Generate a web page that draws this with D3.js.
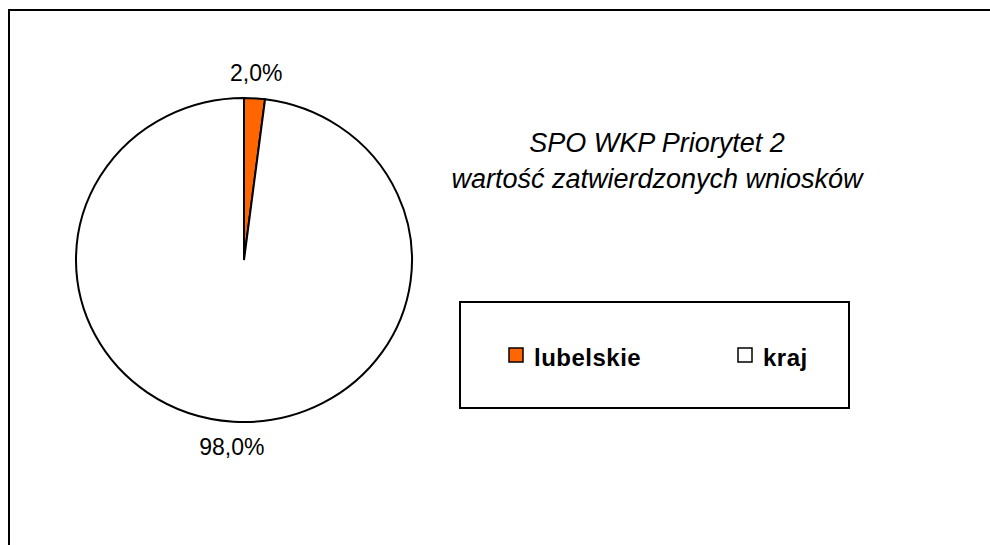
<!DOCTYPE html>
<html>
<head>
<meta charset="utf-8">
<script src="https://cdn.jsdelivr.net/npm/d3@7"></script>
<style>
  html, body { margin: 0; padding: 0; background: #fff; }
  svg { display: block; font-family: "Liberation Sans", Arial, sans-serif; }
</style>
</head>
<body>
<svg id="chart" width="990" height="545"></svg>
<script>
const categories = ["lubelskie", "kraj"];
const values = [2.0, 98.0];
const colors = ["#FF6600", "#FFFFFF"];
const titleLines = ["SPO WKP Priorytet 2", "wartość zatwierdzonych wniosków"];

const svg = d3.select("#chart");

// outer frame (runs off the right and bottom edges)
svg.append("rect")
  .attr("x", 9).attr("y", 10)
  .attr("width", 1000).attr("height", 600)
  .attr("fill", "#fff").attr("stroke", "#000").attr("stroke-width", 2);

// pie is slightly wider than tall in the source
const ry = 162, rx = 168;
const pieG = svg.append("g")
  .attr("transform", `translate(244,260) scale(${rx / ry},1)`);

const pie = d3.pie().sort(null).value(d => d.v);
const arcs = pie(categories.map((c, i) => ({ c, v: values[i], color: colors[i] })));
const arc = d3.arc().innerRadius(0).outerRadius(ry);
const labelArc = d3.arc().innerRadius(187).outerRadius(187);

pieG.selectAll("path.slice")
  .data(arcs)
  .join("path")
  .attr("class", "slice")
  .attr("d", arc)
  .attr("fill", d => d.data.color)
  .attr("stroke", "#000")
  .attr("stroke-width", 2)
  .attr("vector-effect", "non-scaling-stroke");

const fmt = v => d3.format(".1f")(v).replace(".", ",") + "%";
const total = d3.sum(values);

svg.selectAll("text.pct")
  .data(arcs)
  .join("text")
  .attr("class", "pct")
  .attr("x", d => 244 + labelArc.centroid(d)[0] * rx / ry)
  .attr("y", d => 260 + labelArc.centroid(d)[1])
  .attr("dy", "0.35em")
  .attr("text-anchor", "middle")
  .attr("font-size", 23)
  .attr("fill", "#000")
  .text(d => fmt(d.data.v / total * 100));

// title
svg.append("text")
  .attr("x", 657).attr("y", 152)
  .attr("text-anchor", "middle")
  .attr("font-size", 27)
  .attr("font-style", "italic")
  .selectAll("tspan")
  .data(titleLines)
  .join("tspan")
  .attr("x", 657)
  .attr("dy", (d, i) => i === 0 ? 0 : 36)
  .text(d => d);

// legend
svg.append("rect")
  .attr("x", 460).attr("y", 302)
  .attr("width", 389).attr("height", 106)
  .attr("fill", "#fff").attr("stroke", "#000").attr("stroke-width", 2);

const legendX = d3.scalePoint().domain(categories).range([509, 738]);
const items = svg.selectAll("g.leg")
  .data(categories)
  .join("g")
  .attr("class", "leg")
  .attr("transform", d => `translate(${legendX(d)},348)`);

items.append("rect")
  .attr("width", 14).attr("height", 14)
  .attr("fill", (d, i) => colors[i])
  .attr("stroke", "#000").attr("stroke-width", 1.5);

items.append("text")
  .attr("x", 25).attr("y", 18)
  .attr("font-size", 24)
  .attr("font-weight", "bold")
  .attr("letter-spacing", 0.5)
  .text(d => d);
</script>
</body>
</html>
